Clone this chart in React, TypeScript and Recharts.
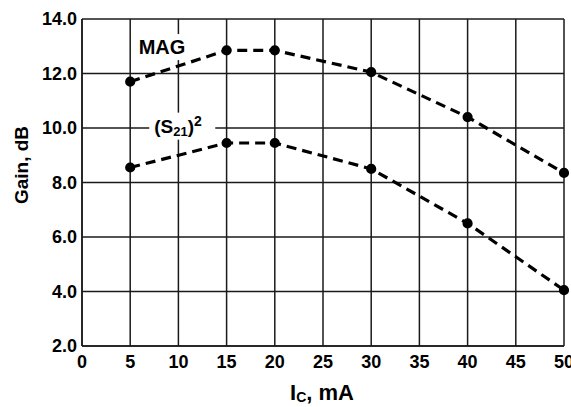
import React from 'react';
import { LineChart, Line, XAxis, YAxis, CartesianGrid, ReferenceDot } from 'recharts';

const currents = [5, 15, 20, 30, 40, 50];
const magGain = [11.7, 12.85, 12.85, 12.05, 10.4, 8.35];
const s21Gain = [8.55, 9.45, 9.45, 8.5, 6.5, 4.05];
const xTicks = [0, 5, 10, 15, 20, 25, 30, 35, 40, 45, 50];
const yTicks = [2, 4, 6, 8, 10, 12, 14];

const font = '"Liberation Sans", Arial, Helvetica, sans-serif';

const data = currents.map((ic, i) => ({ ic, mag: magGain[i], s21: s21Gain[i] }));

// text label with white backing so grid lines break behind it
const BoxLabel = ({ viewBox, kind }: any) => {
  const cx = viewBox.x + (viewBox.width || 0) / 2;
  const cy = viewBox.y + (viewBox.height || 0) / 2;
  if (kind === 'mag') {
    return (
      <g>
        <rect x={cx - 28} y={cy - 13} width={56} height={26} fill="#fff" />
        <text x={cx} y={cy + 7} textAnchor="middle" fontFamily={font} fontWeight="bold" fontSize={20} fill="#000">MAG</text>
      </g>
    );
  }
  return (
    <g>
      <rect x={cx - 33} y={cy - 14} width={66} height={27} fill="#fff" />
      <text x={cx - 28} y={cy + 6} fontFamily={font} fontWeight="bold" fontSize={19} fill="#000">
        (S<tspan fontSize={13} dy={3}>21</tspan><tspan dy={-3}>)</tspan><tspan fontSize={14} dy={-7}>2</tspan>
      </text>
    </g>
  );
};

const YTitle = () => (
  <text x={28} y={165} transform="rotate(-90, 28, 165)" textAnchor="middle" fontFamily={font} fontWeight="bold" fontSize={19} fill="#000">
    Gain, dB
  </text>
);

const XTitle = ({ viewBox }: any) => {
  const cx = viewBox.x + viewBox.width / 2;
  return (
    <text x={cx - 1} y={400} textAnchor="middle" fontFamily={font} fontWeight="bold" fontSize={22} fill="#000">
      I<tspan fontSize={14} dy={2}>C</tspan><tspan dy={-2}>, mA</tspan>
    </text>
  );
};

const tickStyle = { fontFamily: font, fontWeight: 'bold' as const, fontSize: 18, fill: '#000' };

export default function App() {
  return (
    <div style={{ position: 'absolute', left: 0, top: 0, background: '#fff' }}>
      <LineChart width={571} height={407} data={data} margin={{ top: 19, right: 7, left: 0, bottom: 0 }}>
        <CartesianGrid stroke="#1a1a1a" strokeWidth={1.5} />
        <XAxis
          dataKey="ic"
          type="number"
          domain={[0, 50]}
          ticks={xTicks}
          height={61}
          tickSize={0}
          tickMargin={9}
          tick={tickStyle}
          axisLine={{ stroke: '#1a1a1a', strokeWidth: 1.5 }}
          interval={0}
          label={<XTitle />}
        />
        <YAxis
          type="number"
          domain={[2, 14]}
          ticks={yTicks}
          width={82}
          tickSize={0}
          tickMargin={5}
          tick={tickStyle}
          tickFormatter={(v: number) => v.toFixed(1)}
          axisLine={{ stroke: '#1a1a1a', strokeWidth: 1.5 }}
          interval={0}
          label={<YTitle />}
        />
        <ReferenceDot x={8.3} y={12.97} r={0} stroke="none" fill="none" label={<BoxLabel kind="mag" />} />
        <ReferenceDot x={10.4} y={10.05} r={0} stroke="none" fill="none" label={<BoxLabel kind="s21" />} />
        <Line type="linear" dataKey="mag" stroke="#000" strokeWidth={3.2} strokeDasharray="10 6" dot={{ r: 3.5, fill: '#000', stroke: '#000', strokeDasharray: '' }} isAnimationActive={false} />
        <Line type="linear" dataKey="s21" stroke="#000" strokeWidth={3.2} strokeDasharray="10 6" dot={{ r: 3.5, fill: '#000', stroke: '#000', strokeDasharray: '' }} isAnimationActive={false} />
      </LineChart>
    </div>
  );
}
